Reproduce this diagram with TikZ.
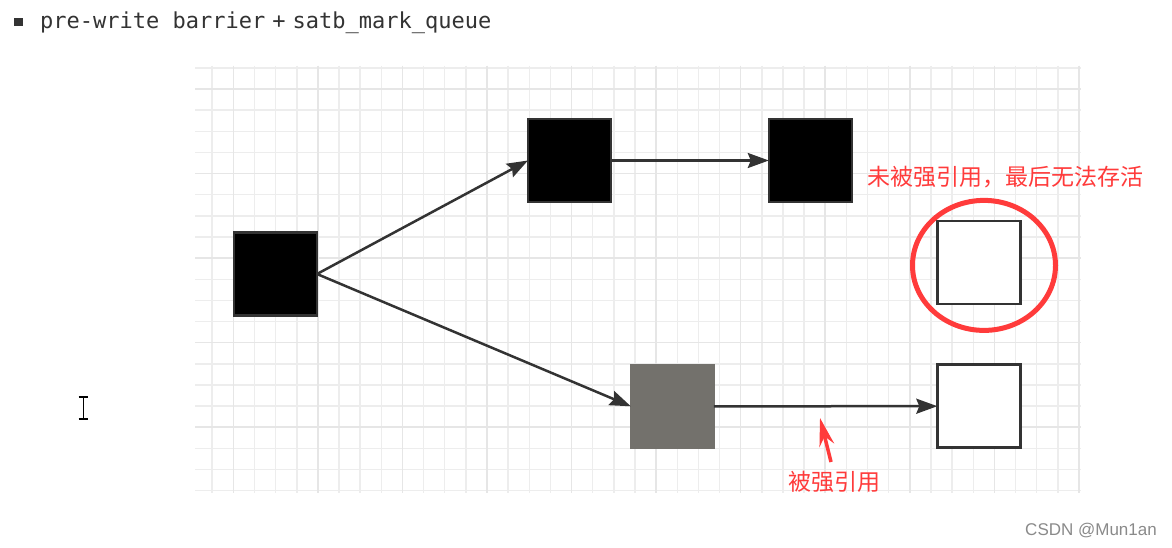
\documentclass[tikz,border=0pt]{standalone}
\usepackage{fontspec}
\newfontfamily\cjk{Noto Sans CJK SC}
\newfontfamily\monofont{DejaVu Sans Mono}
\newfontfamily\markfont{Liberation Sans}
\usetikzlibrary{arrows.meta}
\definecolor{inkgray}{HTML}{333333}
\definecolor{gridminor}{HTML}{EDEDED}
\definecolor{gridmajor}{HTML}{E6E6E6}
\definecolor{notered}{HTML}{FF3B3B}
\definecolor{greyobj}{HTML}{73716C}
\definecolor{markgray}{HTML}{8A8A8A}

\begin{document}
\begin{tikzpicture}[x=1pt,y=-1pt,
  obj/.style={draw=inkgray, line width=2.5pt, minimum size=83pt, inner sep=0pt, outer sep=0pt},
  ref/.style={draw=inkgray, line width=2.5pt, -{Stealth[length=21pt,width=15pt,inset=3pt]}},
  note/.style={font=\cjk\fontsize{23}{23}\selectfont, text=notered, inner sep=0pt}]
\useasboundingbox (0,0) rectangle (1172,548);
\fill[white] (0,0) rectangle (1172,548);
\foreach \i in {0,...,41} \draw[gridminor, line width=1.5pt] (212.2+21.14*\i,66) -- (212.2+21.14*\i,493);
\foreach \j in {0,...,20} \draw[gridminor, line width=1.5pt] (195,67.9+21.14*\j) -- (1081,67.9+21.14*\j);
\foreach \i in {0,...,10} \draw[gridmajor, line width=1.5pt] (233.3+84.56*\i,66) -- (233.3+84.56*\i,493);
\foreach \j in {0,...,4} \draw[gridmajor, line width=1.5pt] (195,89+84.56*\j) -- (1081,89+84.56*\j);
\fill[inkgray] (14,18) rectangle (22.5,26);
\node[anchor=base west, font=\monofont\fontsize{22}{22}\selectfont, text=inkgray, inner sep=0pt] (title) at (40,28.3) {pre-write barrier\hspace{7pt}+\hspace{7pt}satb\_mark\_queue};
\draw[black, line width=1.5pt] (83.3,397) -- (83.3,419) (78.5,397) -- (88,397) (78.5,419) -- (88,419);
\node[obj, fill=black] (root) at (275.5,274) {};
\node[obj, fill=black] (upper) at (569.5,160.5) {};
\node[obj, fill=black] (upperchild) at (810.3,160.5) {};
\node[obj, fill=white] (lost) at (979.2,262.5) {};
\node[obj, fill=greyobj, draw=greyobj] (grey) at (672.3,406.3) {};
\node[obj, fill=white] (kept) at (978.8,406.2) {};
\draw[ref] (root.east) -- (upper.west);
\draw[ref] (root.east) -- (grey.west);
\draw[ref] (upper.east) -- (upperchild.west);
\draw[ref] (grey.east) -- (kept.west);
\draw[notered, line width=5pt] (984,265.4) ellipse [x radius=71.5, y radius=65];
\node[note] (lostnote) at (1005.5,177.5) {未被强引用，最后无法存活};
\node[note] (keptnote) at (834,482) {被强引用};
\coordinate (pointtail) at (831,462);
\coordinate (pointtip) at (820,418);
\draw[notered, line width=3.5pt, -{Stealth[length=28pt,width=15pt]}] (pointtail) -- (pointtip);
\node[anchor=east, font=\markfont\fontsize{17}{17}\selectfont, text=markgray, inner sep=0pt] (mark) at (1157,531) {CSDN @Mun1an};
\end{tikzpicture}
\end{document}
